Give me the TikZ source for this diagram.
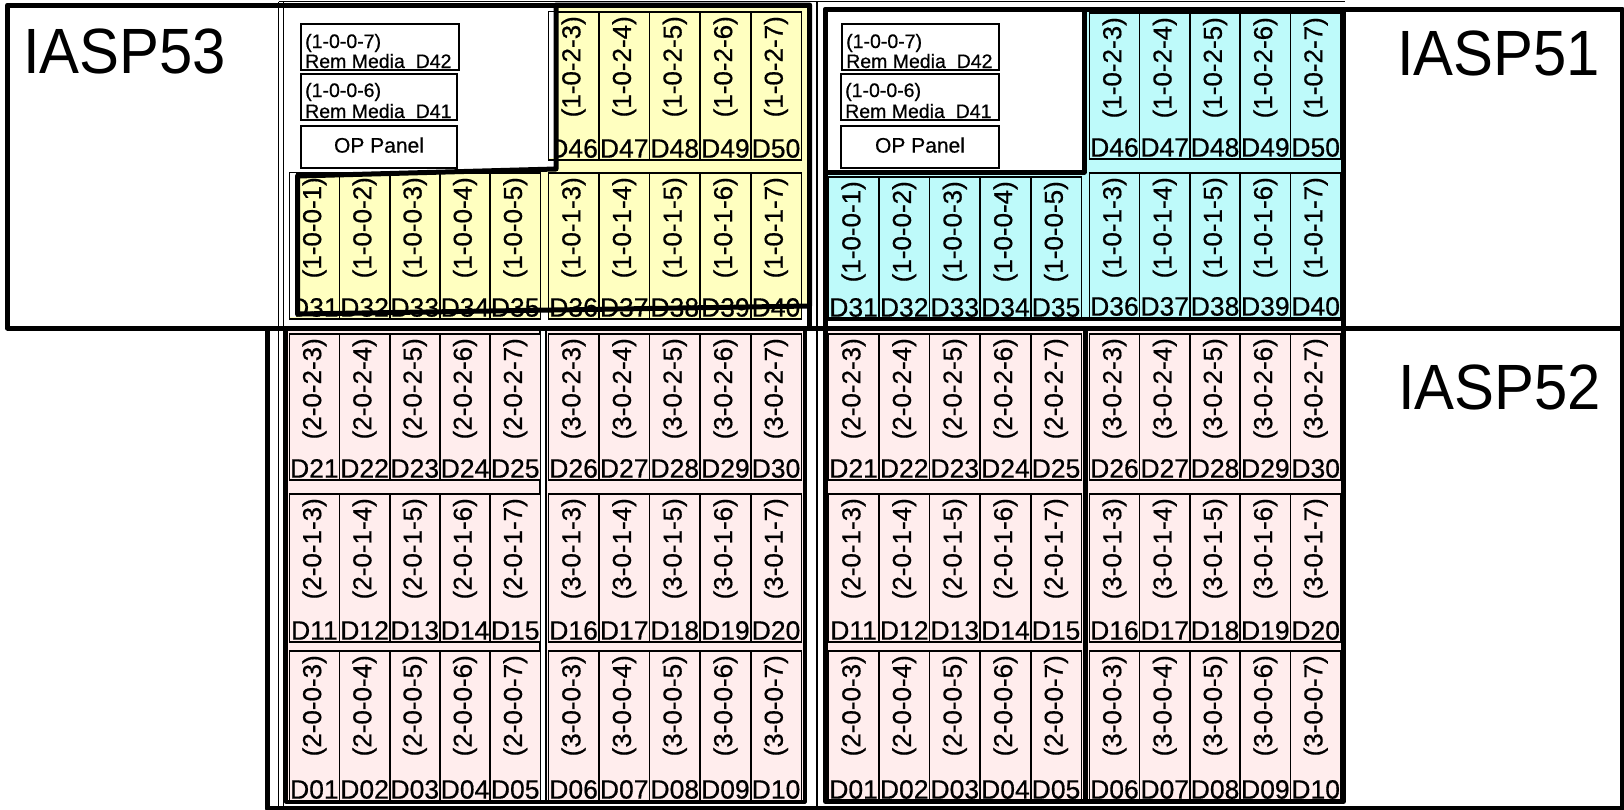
\documentclass[tikz,border=0pt]{standalone}
\usepackage{fontspec}
\setmainfont{Liberation Sans}
\newfontfamily\lblfont{Liberation Sans}[FakeBold=0.6]
\definecolor{ylw}{RGB}{255,255,192}
\definecolor{cyn}{RGB}{190,250,250}
\definecolor{pnk}{RGB}{255,237,237}
\tikzset{
 cellbox/.style={draw, line width=1.6pt, inner sep=0pt, anchor=north west},
 idtext/.style={rotate=90, anchor=east, inner sep=0pt, font=\lblfont\fontsize{26}{26}\selectfont},
 dtext/.style={anchor=base, inner sep=0pt, font=\lblfont\fontsize{26.5}{26.5}\selectfont},
 thickfive/.style={line width=5pt, line join=round},
 thickfour/.style={line width=4pt, line join=round},
 thinln/.style={line width=1.5pt},
 smalltext/.style={font=\lblfont\fontsize{19.5}{19.5}\selectfont, inner sep=0pt, anchor=base west},
 bigtext/.style={font=\fontsize{64}{64}\selectfont, inner sep=0pt, anchor=base west, xscale=0.935},
 rembox/.style={draw, line width=2pt, fill=white, anchor=north west, inner sep=0pt},
 opbox/.style={rembox, font=\lblfont\fontsize{21}{21}\selectfont, text depth=4pt},
}
% #1 name, #2 x0, #3 width, #4 top, #5 height, #6 fill, #7 prefix, #8 first c, #9 first D
\newcommand\cellrow[9]{%
  \foreach \k in {0,...,4}{%
    \pgfmathtruncatemacro\cc{#8+\k}%
    \pgfmathtruncatemacro\dd{#9+\k}%
    \node[cellbox,fill=#6,minimum width=#3,minimum height=#5] (#1\k) at ({#2+\k*#3},#4) {};
    \node[idtext] (#1\k i) at ([yshift=-5pt]#1\k.north) {(#7-\cc)};
    \node[dtext] (#1\k d) at ([yshift=3pt]#1\k.south) {D\ifnum\dd<10 0\fi\dd};
  }}
\begin{document}
\begin{tikzpicture}[x=1pt,y=-1pt]
\useasboundingbox (0,0) rectangle (1624,809);
% coloured regions
\fill[ylw] (556,5) -- (809.5,5) -- (809.5,306) -- (297.5,314) -- (297.5,176) -- (556,169) -- cycle;
\fill[cyn] (825.5,172) -- (1084,172) -- (1084,9.5) -- (1343.5,9.5) -- (1343.5,318.5) -- (825.5,318.5) -- cycle;
\draw[thinln, fill=pnk] (287,329) rectangle (540,802);
\draw[thinln, fill=pnk] (546,329) rectangle (804,802);
\draw[thinln, fill=pnk] (826,329) rectangle (1085,802);
\draw[thinln, fill=pnk] (1085,329) rectangle (1343,802);
% left tower cells
\cellrow{LA}{547.5}{50.6}{11}{148}{ylw}{1-0-2}{3}{46}
\cellrow{LBa}{288.5}{50.2}{172}{146}{ylw}{1-0-0}{1}{31}
\cellrow{LBb}{547.5}{50.6}{172}{146}{ylw}{1-0-1}{3}{36}
\cellrow{LPa}{288.5}{50.2}{333}{146}{pnk}{2-0-2}{3}{21}
\cellrow{LPb}{547.5}{50.6}{333}{146}{pnk}{3-0-2}{3}{26}
\cellrow{LQa}{288.5}{50.2}{493}{148}{pnk}{2-0-1}{3}{11}
\cellrow{LQb}{547.5}{50.6}{493}{148}{pnk}{3-0-1}{3}{16}
\cellrow{LRa}{288.5}{50.2}{650}{150}{pnk}{2-0-0}{3}{1}
\cellrow{LRb}{547.5}{50.6}{650}{150}{pnk}{3-0-0}{3}{6}
% right tower cells
\cellrow{RA}{1088.5}{50.3}{12}{146}{cyn}{1-0-2}{3}{46}
\cellrow{RBa}{827.5}{50.6}{176}{142}{cyn}{1-0-0}{1}{31}
\cellrow{RBb}{1088.5}{50.3}{172}{145}{cyn}{1-0-1}{3}{36}
\cellrow{RPa}{827.5}{50.6}{333}{146}{pnk}{2-0-2}{3}{21}
\cellrow{RPb}{1088.5}{50.3}{333}{146}{pnk}{3-0-2}{3}{26}
\cellrow{RQa}{827.5}{50.6}{493}{148}{pnk}{2-0-1}{3}{11}
\cellrow{RQb}{1088.5}{50.3}{493}{148}{pnk}{3-0-1}{3}{16}
\cellrow{RRa}{827.5}{50.6}{650}{150}{pnk}{2-0-0}{3}{1}
\cellrow{RRb}{1088.5}{50.3}{650}{150}{pnk}{3-0-0}{3}{6}
% white patches left of the thick outline
\fill[white] (289.5,173) rectangle (296,317);
\fill[white] (549.3,12) rectangle (555,158);
% removable media and operator panel, left tower
\node[rembox, minimum width=158, minimum height=46] (rlA) at (300,23) {};
\node[smalltext] (rlAa) at (305,48) {(1-0-0-7)};
\node[smalltext] (rlAb) at (305,68) {Rem Media\ \ D42};
\node[rembox, minimum width=156, minimum height=46] (rlB) at (300,73) {};
\node[smalltext] (rlBa) at (305,97) {(1-0-0-6)};
\node[smalltext] (rlBb) at (305,118) {Rem Media\ \ D41};
\node[opbox, minimum width=156, minimum height=42] (rlC) at (300,125) {OP Panel};
% removable media and operator panel, right tower
\node[rembox, minimum width=157, minimum height=46] (rrA) at (841,23) {};
\node[smalltext] (rrAa) at (846,48) {(1-0-0-7)};
\node[smalltext] (rrAb) at (846,68) {Rem Media\ \ D42};
\node[rembox, minimum width=158, minimum height=46] (rrB) at (840,73) {};
\node[smalltext] (rrBa) at (845,97) {(1-0-0-6)};
\node[smalltext] (rrBb) at (845,118) {Rem Media\ \ D41};
\node[opbox, minimum width=158, minimum height=42] (rrC) at (840,125) {OP Panel};
% thin frame lines
\draw[thinln] (278.5,1.5) -- (1345,1.5);
\draw[thinln] (278.5,1.5) -- (278.5,807);
\draw[thinln] (283.5,1.5) -- (283.5,807);
\draw[thinln] (817,1.5) -- (817,807);
% thick outlines
\draw[thickfive] (556,5) -- (809.5,5) -- (809.5,306) -- (297.5,314) -- (297.5,176) -- (556,169) -- cycle;
\draw[thickfive] (825.5,9.5) rectangle (1343.5,801.5);
\draw[thickfive] (825.5,172) -- (1084,172) -- (1084,9.5);
\draw[thickfour] (825.5,318.5) -- (1343.5,318.5);
\draw[thickfive] (1085.5,328) -- (1085.5,801.5);
\draw[thickfour] (286,328) -- (286,801.5) -- (804.5,801.5) -- (804.5,328);
\draw[thickfive] (7.5,5) rectangle (809.5,328);
\draw[thickfive] (825.5,9.5) rectangle (1622.5,328);
\draw[thickfive] (267,328) rectangle (1622.5,808.5);
% pool labels
\node[bigtext] (iasp53) at (23,73) {IASP53};
\node[bigtext] (iasp51) at (1397,75) {IASP51};
\node[bigtext] (iasp52) at (1398,409) {IASP52};
\end{tikzpicture}
\end{document}
